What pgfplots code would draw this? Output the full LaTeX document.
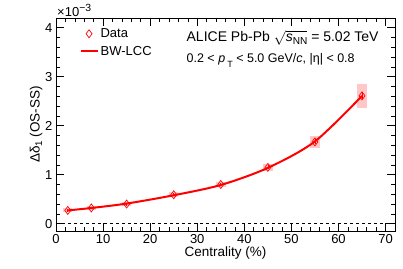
\documentclass[border=0pt]{standalone}
\usepackage{pgfplots}
\pgfplotsset{compat=1.18}
\usepackage{fontspec}
\setmainfont{Liberation Sans}
\newcommand{\sub}[1]{\raisebox{-0.35ex}{\scalebox{0.72}{#1}}}
\newcommand{\subT}[1]{\raisebox{-0.75ex}{\scalebox{0.72}{#1}}}
\begin{document}
\begin{tikzpicture}
\begin{axis}[
  scale only axis, width=339pt, height=213pt,
  xmin=0, xmax=72, ymin=-0.15, ymax=4.2,
  xtick={0,10,...,70}, ytick={0,1,2,3,4},
  minor x tick num=4, minor y tick num=4,
  tick align=inside, xtick pos=both, ytick pos=both,
  major tick length=8pt, minor tick length=4pt,
  tick style={black, line width=0.6pt},
  axis line style={line width=0.8pt},
  /pgf/number format/assume math mode=true,
  tick label style={font=\fontsize{13}{15}\selectfont},
  xlabel={Centrality (\%)}, ylabel={Δδ\sub{1} (OS-SS)},
  label style={font=\fontsize{13.5}{15}\selectfont},
  xlabel style={yshift=4pt},
  ylabel style={yshift=-4pt},
  clip=false,
  legend style={draw=none, fill=none, at={(rel axis cs:0.06,0.97)}, anchor=north west, font=\fontsize{13}{15}\selectfont, row sep=3pt},
  legend cell align=left,
]
\coordinate (bl) at (rel axis cs:0,0);
\coordinate (tr) at (rel axis cs:1,1);
% systematic boxes
\addplot[fill=red!22, draw=none, forget plot] coordinates {(1.5,0.23)(3.5,0.23)(3.5,0.31)(1.5,0.31)} -- cycle;
\addplot[fill=red!22, draw=none, forget plot] coordinates {(6.5,0.28)(8.5,0.28)(8.5,0.36)(6.5,0.36)} -- cycle;
\addplot[fill=red!22, draw=none, forget plot] coordinates {(14,0.36)(16,0.36)(16,0.44)(14,0.44)} -- cycle;
\addplot[fill=red!22, draw=none, forget plot] coordinates {(24,0.54)(26,0.54)(26,0.64)(24,0.64)} -- cycle;
\addplot[fill=red!22, draw=none, forget plot] coordinates {(34,0.75)(36,0.75)(36,0.85)(34,0.85)} -- cycle;
\addplot[fill=red!22, draw=none, forget plot] coordinates {(44,1.08)(46,1.08)(46,1.22)(44,1.22)} -- cycle;
\addplot[fill=red!22, draw=none, forget plot] coordinates {(54,1.55)(56,1.55)(56,1.79)(54,1.79)} -- cycle;
\addplot[fill=red!22, draw=none, forget plot] coordinates {(64,2.365)(66,2.365)(66,2.855)(64,2.855)} -- cycle;
% zero line
\addplot[black, dashed, line width=0.6pt, forget plot] coordinates {(0,0)(72,0)};
% data
\addplot[red, only marks, mark=diamond, mark size=4pt, mark options={line width=0.7pt, fill=none},
  error bars/.cd, y dir=both, y explicit, error mark=none, error bar style={line width=0.7pt}]
  coordinates {
  (2.5,0.27) +- (0,0.03)
  (7.5,0.32) +- (0,0.03)
  (15,0.40) +- (0,0.03)
  (25,0.59) +- (0,0.03)
  (35,0.80) +- (0,0.03)
  (45,1.15) +- (0,0.04)
  (55,1.67) +- (0,0.05)
  (65,2.61) +- (0,0.07)
  };
\addlegendentry{Data}
% model
\addplot[red, line width=2pt, smooth, no marks]
  coordinates {(2.5,0.27)(7.5,0.32)(15,0.41)(25,0.58)(35,0.79)(45,1.14)(55,1.68)(65,2.61)};
\addlegendentry{BW-LCC}
\node[anchor=west, font=\fontsize{14}{16}\selectfont] at (rel axis cs:0.375,0.905) {ALICE Pb-Pb $\sqrt{\mbox{\textit{s}\sub{NN}}}$ = 5.02 TeV};
\node[anchor=west, font=\fontsize{12.5}{14}\selectfont] at (rel axis cs:0.375,0.80) {0.2 < \textit{p}\,\subT{T} < 5.0 GeV/\textit{c}, |η| < 0.8};
\node[anchor=south west, inner sep=1pt, font=\fontsize{13}{15}\selectfont] at (rel axis cs:0,1) {×10\raisebox{0.8ex}{\scalebox{0.8}{−3}}};
\end{axis}
\pgfresetboundingbox
\path[use as bounding box] ([xshift=-56pt,yshift=-38pt]bl) rectangle ([xshift=8pt,yshift=18pt]tr);
\end{tikzpicture}
\end{document}
